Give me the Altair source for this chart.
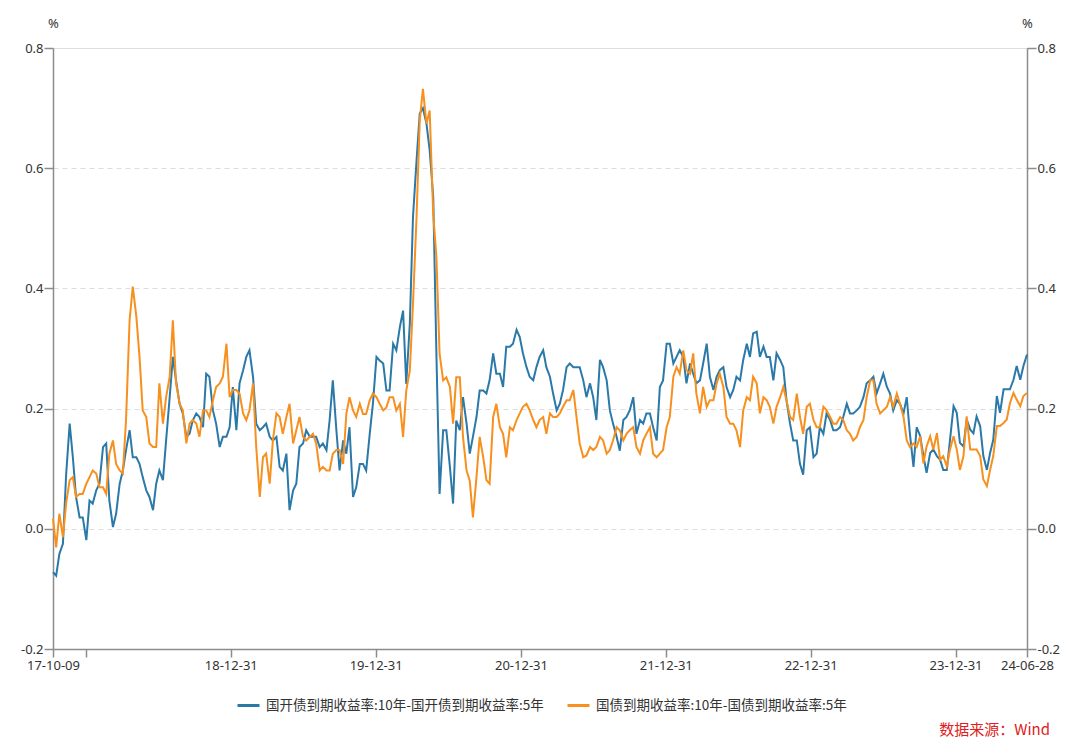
import altair as alt
import pandas as pd

START = "2017-10-09"
END = "2024-06-28"
S1 = "国开债到期收益率:10年-国开债到期收益率:5年"
S2 = "国债到期收益率:10年-国债到期收益率:5年"
BLUE = "#2a79a8"
ORANGE = "#f7901e"

cdb_spread = [
    -0.072, -0.078, -0.042, -0.025, 0.089, 0.175, 0.119, 0.053, 0.019, 0.019,
    -0.019, 0.047, 0.042, 0.064, 0.075, 0.136, 0.142, 0.047, 0.003, 0.025,
    0.075, 0.097, 0.131, 0.164, 0.119, 0.119, 0.108, 0.086, 0.064, 0.053,
    0.031, 0.075, 0.097, 0.081, 0.147, 0.219, 0.286, 0.247, 0.208, 0.192,
    0.153, 0.158, 0.18,
    0.192, 0.186, 0.169, 0.258, 0.253, 0.197, 0.175, 0.136, 0.153, 0.153,
    0.169, 0.236, 0.164, 0.242, 0.264, 0.286, 0.297, 0.253, 0.175, 0.164,
    0.169, 0.175, 0.153, 0.147, 0.153, 0.103, 0.097, 0.125, 0.031, 0.064,
    0.075, 0.136, 0.142, 0.164, 0.153, 0.153, 0.153, 0.136, 0.142, 0.131,
    0.181, 0.247, 0.164, 0.097,
    0.147, 0.125, 0.169, 0.053, 0.069, 0.108, 0.108, 0.097, 0.158, 0.208,
    0.286, 0.280, 0.275, 0.230, 0.230, 0.308, 0.297, 0.336, 0.363, 0.241,
    0.341, 0.519, 0.613, 0.691, 0.70, 0.674, 0.630, 0.552, 0.291, 0.058,
    0.164, 0.164, 0.103, 0.042, 0.180, 0.164, 0.219, 0.175, 0.125, 0.153,
    0.186, 0.230, 0.230,
    0.225, 0.247, 0.292, 0.258, 0.258, 0.236, 0.303, 0.303, 0.308, 0.331,
    0.319, 0.292, 0.269, 0.253, 0.247, 0.269, 0.286, 0.297, 0.269, 0.253,
    0.225, 0.197, 0.208, 0.231, 0.269, 0.275, 0.269, 0.269, 0.269, 0.247,
    0.219, 0.242, 0.219, 0.181, 0.281, 0.269, 0.247, 0.197, 0.175, 0.153,
    0.130, 0.181, 0.186,
    0.197, 0.219, 0.158, 0.181, 0.175, 0.192, 0.192, 0.169, 0.147, 0.236,
    0.247, 0.308, 0.308, 0.275, 0.286, 0.297, 0.286, 0.242, 0.275, 0.258,
    0.242, 0.247, 0.275, 0.308, 0.253, 0.231, 0.253, 0.264, 0.269, 0.236,
    0.219, 0.231, 0.253, 0.247, 0.281, 0.308, 0.286, 0.325, 0.328, 0.286,
    0.303, 0.286, 0.286, 0.247,
    0.292, 0.281, 0.269, 0.214, 0.175, 0.147, 0.147, 0.108, 0.090, 0.164,
    0.169, 0.119, 0.125, 0.169, 0.158, 0.192, 0.181, 0.164, 0.164, 0.169,
    0.186, 0.208, 0.192, 0.192, 0.197, 0.203, 0.219, 0.242, 0.247, 0.253,
    0.225, 0.242, 0.258, 0.236, 0.225, 0.197, 0.214, 0.208, 0.192, 0.219,
    0.158, 0.103, 0.169,
    0.154, 0.121, 0.093, 0.126, 0.132, 0.121, 0.115, 0.098, 0.098, 0.148,
    0.204, 0.193, 0.143, 0.137, 0.182, 0.165, 0.159, 0.187, 0.171, 0.121,
    0.098, 0.126, 0.148, 0.221, 0.193, 0.232, 0.232, 0.232, 0.248, 0.271,
    0.248, 0.271, 0.290,
]

gov_spread = [
    0.017, -0.031, 0.025, -0.014, 0.042, 0.081, 0.086, 0.053, 0.058, 0.058,
    0.075, 0.086, 0.097, 0.092, 0.069, 0.069, 0.058, 0.125, 0.147, 0.108,
    0.097, 0.092, 0.181, 0.347, 0.403, 0.353, 0.286, 0.197, 0.186, 0.142,
    0.136, 0.136, 0.242, 0.175, 0.219, 0.253, 0.347, 0.242, 0.208, 0.197,
    0.142, 0.175, 0.181,
    0.175, 0.153, 0.197, 0.197, 0.186, 0.214, 0.236, 0.242, 0.253, 0.308,
    0.219, 0.231, 0.231, 0.225, 0.192, 0.181, 0.197, 0.242, 0.136, 0.053,
    0.119, 0.125, 0.075, 0.147, 0.192, 0.186, 0.158, 0.186, 0.208, 0.142,
    0.164, 0.186, 0.153, 0.147, 0.153, 0.158, 0.142, 0.097, 0.103, 0.097,
    0.097, 0.125, 0.131, 0.131,
    0.108, 0.191, 0.219, 0.197, 0.186, 0.208, 0.191, 0.191, 0.214, 0.225,
    0.219, 0.208, 0.197, 0.202, 0.219, 0.219, 0.197, 0.208, 0.153, 0.230,
    0.263, 0.374, 0.519, 0.679, 0.732, 0.674, 0.696, 0.524, 0.452, 0.291,
    0.247, 0.252, 0.236, 0.175, 0.252, 0.252, 0.153, 0.097, 0.080, 0.019,
    0.086, 0.153, 0.119,
    0.081, 0.075, 0.186, 0.208, 0.169, 0.158, 0.119, 0.169, 0.164, 0.181,
    0.192, 0.203, 0.208, 0.197, 0.181, 0.169, 0.181, 0.186, 0.158, 0.192,
    0.186, 0.186, 0.192, 0.203, 0.214, 0.214, 0.231, 0.186, 0.142, 0.119,
    0.122, 0.136, 0.131, 0.136, 0.153, 0.147, 0.125, 0.131, 0.147, 0.169,
    0.164, 0.147, 0.158,
    0.164, 0.169, 0.136, 0.125, 0.147, 0.158, 0.169, 0.125, 0.119, 0.125,
    0.131, 0.169, 0.186, 0.253, 0.269, 0.258, 0.297, 0.264, 0.258, 0.292,
    0.225, 0.192, 0.236, 0.203, 0.214, 0.214, 0.242, 0.258, 0.236, 0.186,
    0.175, 0.175, 0.164, 0.136, 0.197, 0.219, 0.214, 0.253, 0.242, 0.192,
    0.219, 0.214, 0.203, 0.175,
    0.203, 0.219, 0.236, 0.214, 0.186, 0.181, 0.225, 0.186, 0.158, 0.203,
    0.208, 0.181, 0.169, 0.169, 0.203, 0.197, 0.186, 0.175, 0.175, 0.186,
    0.181, 0.164, 0.158, 0.147, 0.153, 0.169, 0.181, 0.219, 0.247, 0.247,
    0.208, 0.192, 0.197, 0.203, 0.219, 0.203, 0.225, 0.208, 0.186, 0.147,
    0.136, 0.142, 0.136,
    0.154, 0.109, 0.137, 0.154, 0.132, 0.159, 0.115, 0.121, 0.104, 0.132,
    0.154, 0.132, 0.098, 0.121, 0.187, 0.132, 0.132, 0.132, 0.121, 0.082,
    0.071, 0.098, 0.121, 0.171, 0.171, 0.176, 0.182, 0.209, 0.226, 0.215,
    0.204, 0.221, 0.226,
]

assert len(cdb_spread) == len(gov_spread), (len(cdb_spread), len(gov_spread))
N = len(cdb_spread)
dates = pd.date_range(START, END, periods=N).strftime("%Y-%m-%d").tolist()

tick_dates = [(2017, 10, 9), (2017, 12, 31), (2018, 12, 31), (2019, 12, 31),
              (2020, 12, 31), (2021, 12, 31), (2022, 12, 31), (2023, 12, 31),
              (2024, 6, 28)]
y_ticks = [-0.2, 0.0, 0.2, 0.4, 0.6, 0.8]

df = pd.DataFrame({
    "date": dates + dates,
    "value": cdb_spread + gov_spread,
    "series": [S1] * N + [S2] * N,
})

FONT = "Noto Sans"
CJK = "Noto Sans CJK SC"
AXIS_GREY = "#8c8c8c"
TXT = "#333333"

x_enc = alt.X(
    "date:T",
    title=None,
    scale=alt.Scale(domain=[alt.DateTime(year=2017, month=10, date=9),
                            alt.DateTime(year=2024, month=6, date=28)], nice=False),
    axis=alt.Axis(
        values=[alt.DateTime(year=y, month=m, date=d) for (y, m, d) in tick_dates],
        labelExpr="timeFormat(datum.value, '%y-%m-%d') == '17-12-31' ? '' : timeFormat(datum.value, '%y-%m-%d')",
        labelFlush=False, labelOverlap=False, grid=False,
        domainColor=AXIS_GREY, domainWidth=1.5, tickColor=AXIS_GREY, tickWidth=1.5,
        tickSize=8, labelPadding=2, labelFont=FONT, labelFontSize=13, labelColor=TXT,
    ),
)

ylabel = "datum.value < -0.001 ? '-' + format(-datum.value, '.1f') : format(abs(datum.value), '.1f')"

y_scale = alt.Scale(domain=[-0.2, 0.8], nice=False, zero=False)

color_enc = alt.Color(
    "series:N",
    scale=alt.Scale(domain=[S1, S2], range=[BLUE, ORANGE]),
    legend=alt.Legend(
        title=None, orient="none", direction="horizontal", legendX=183, legendY=645,
        symbolType="stroke", symbolStrokeWidth=3, symbolSize=484,
        labelFont=CJK, labelFontSize=13.5, labelColor=TXT, labelOffset=5,
        labelLimit=0, columnPadding=17, padding=0,
    ),
)

left_axis = alt.Axis(
    values=y_ticks, labelExpr=ylabel, title="%", titleAngle=0, titleX=0, titleY=-25,
    titleAlign="center", titleBaseline="middle", titleFont=FONT, titleFontSize=13,
    titleFontWeight="normal", titleColor=TXT,
    grid=True, gridColor="#dddddd", gridDash=[5, 4], gridWidth=1,
    domainColor=AXIS_GREY, domainWidth=1.5, tickColor=AXIS_GREY, tickWidth=1.5,
    tickSize=9, labelPadding=1, labelFont=FONT, labelFontSize=13, labelColor=TXT,
)
right_axis = alt.Axis(
    values=y_ticks, labelExpr=ylabel, orient="right", title="%", titleAngle=0, titleX=0,
    titleY=-25, titleAlign="center", titleBaseline="middle", titleFont=FONT,
    titleFontSize=13, titleFontWeight="normal", titleColor=TXT,
    grid=False, domainColor=AXIS_GREY, domainWidth=1.5, tickColor=AXIS_GREY,
    tickWidth=1.5, tickSize=9, labelPadding=1, labelFont=FONT, labelFontSize=13,
    labelColor=TXT,
)

blue_line = alt.Chart(df).transform_filter(alt.datum.series == S1).mark_line(
    strokeWidth=2
).encode(x=x_enc, y=alt.Y("value:Q", scale=y_scale, axis=left_axis), color=color_enc)

orange_line = alt.Chart(df).transform_filter(alt.datum.series == S2).mark_line(
    strokeWidth=2
).encode(x=x_enc, y=alt.Y("value:Q", scale=y_scale, axis=right_axis), color=color_enc)

source = alt.Chart(pd.DataFrame({"t": ["数据来源：Wind"]})).mark_text(
    align="right", baseline="middle", font=CJK, fontSize=15, color="#e02020"
).encode(text="t:N", x=alt.value(997), y=alt.value(682))

chart = alt.layer(blue_line, orange_line, source).resolve_scale(y="independent").properties(
    width=974, height=601,
    autosize=alt.AutoSizeParams(type="none"),
    padding={"left": 45, "top": 40, "right": 45, "bottom": 95},
).configure_view(stroke=None).configure(background="white")

chart.save("out.html", embed_options={"renderer": "svg", "actions": False})
